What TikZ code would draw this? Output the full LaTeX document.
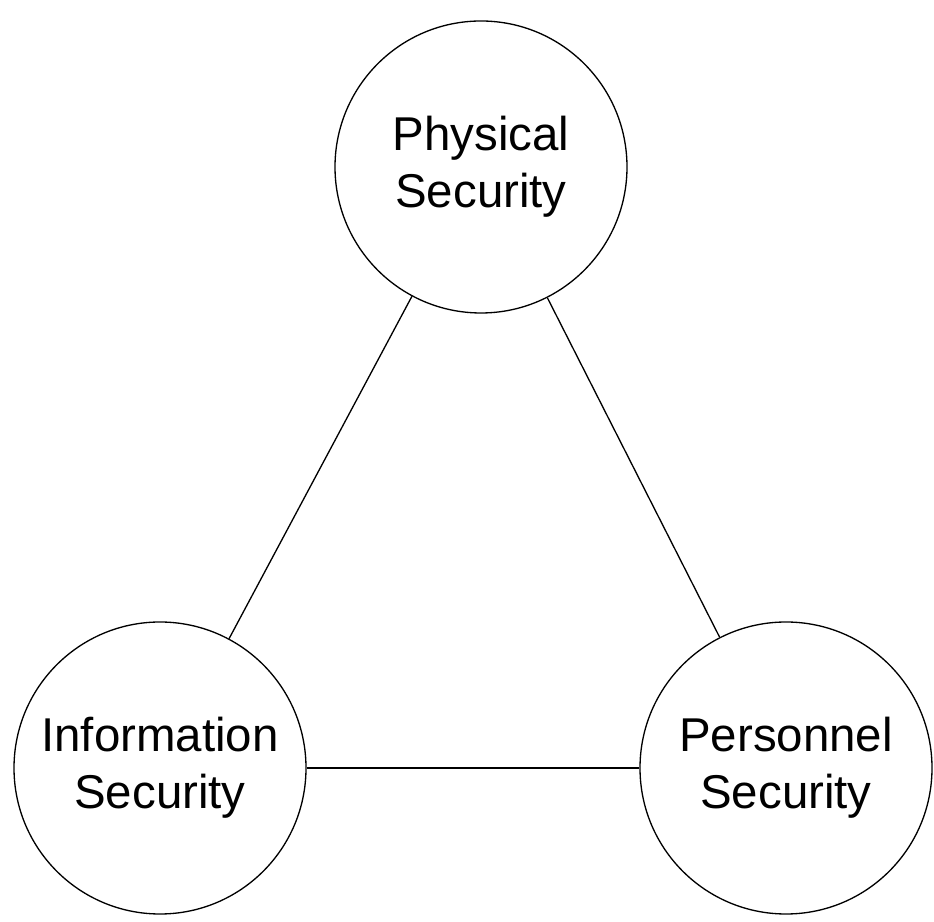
\documentclass[tikz,border=0pt]{standalone}
\usepackage{fontspec}
\setmainfont{Liberation Sans}
\usepackage{tikz}
\usetikzlibrary{positioning}

\begin{document}
\begin{tikzpicture}[every node/.style={font=\fontsize{27}{32.5}\selectfont},
        secnode/.style={draw, circle, line width=0.75pt, minimum size=5.84cm, inner sep=0pt, align=center}]
            \useasboundingbox (0,0) rectangle (18.68,18.42);
            \node[secnode] at (9.62,15.08) (phys) {Physical\\Security};
            \node[secnode, on grid, below left=12.02cm and 6.42cm of phys] (info) {Information\\Security};
            \node[secnode, on grid, right=12.52cm of info] (pers) {Personnel\\Security};

            \draw[line width=0.75pt] (phys) -- (info);
            \draw[line width=0.75pt] (phys) -- (pers);
            \draw[line width=0.75pt] (info) -- (pers);
        \end{tikzpicture}
\end{document}
